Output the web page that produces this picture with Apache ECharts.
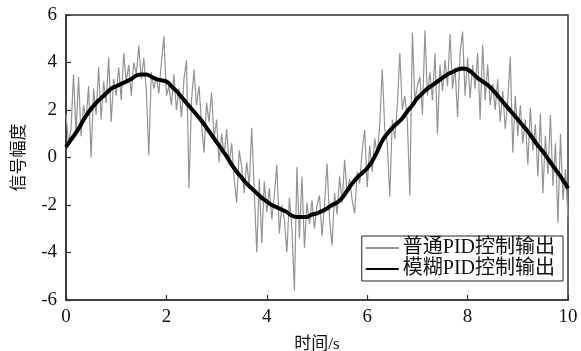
<!DOCTYPE html>
<html><head><meta charset="utf-8">
<script src="https://cdn.jsdelivr.net/npm/echarts@6/dist/echarts.min.js"></script>
<style>html,body{margin:0;padding:0;background:#fff}#c{width:581px;height:351px}</style>
</head><body><div id="c"></div>
<script>
// Sample steps (s)
const fuzzyStep = 0.1;
const normalStep = 0.05;
// Fuzzy PID output, t = 0 .. 10 step 0.1
const fuzzyOut = [0.45,0.75,1.05,1.4,1.75,2.05,2.3,2.5,2.7,2.9,
 3.0,3.1,3.2,3.3,3.45,3.5,3.5,3.4,3.3,3.25,
 3.2,3.0,2.8,2.55,2.3,2.05,1.8,1.55,1.25,0.95,
 0.65,0.35,0.05,-0.3,-0.6,-0.85,-1.1,-1.3,-1.5,-1.7,
 -1.85,-2.0,-2.1,-2.2,-2.3,-2.45,-2.5,-2.5,-2.5,-2.4,
 -2.35,-2.25,-2.15,-2.0,-1.9,-1.7,-1.4,-1.1,-0.85,-0.65,
 -0.45,-0.15,0.25,0.7,1.0,1.25,1.45,1.65,1.95,2.2,
 2.5,2.7,2.9,3.05,3.2,3.35,3.5,3.6,3.7,3.75,
 3.7,3.55,3.35,3.2,3.05,2.85,2.6,2.35,2.1,1.85,
 1.6,1.35,1.1,0.8,0.5,0.25,-0.05,-0.35,-0.65,-0.95,-1.3];
// Normal PID output, t = 0 .. 10 step 0.05
const normalOut = [1.8,0.6,1.2,3.5,1.0,3.4,0.9,2.2,1.6,3.0,0.0,2.9,1.8,3.8,1.6,3.2,2.3,4.2,1.5,3.3,2.6,
 3.8,2.4,4.4,3.2,3.9,2.6,4.0,3.5,4.7,3.3,4.2,2.8,0.1,3.6,2.9,3.4,2.7,4.0,5.1,2.6,
 3.0,2.2,3.5,2.0,2.9,1.7,3.3,4.1,-1.3,2.4,3.7,2.2,3.0,1.4,0.2,2.3,1.5,2.75,0.8,1.6,
 -0.2,1.0,0.1,1.2,-0.3,0.6,-0.9,-1.9,0.3,-0.4,-1.5,-0.2,-1.2,1.25,-1.4,-4.0,-0.9,-3.6,-1.0,-2.3,
 -1.3,-2.6,-1.6,-0.3,-3.2,-2.0,-2.6,-4.0,-1.7,-3.0,-5.6,-0.4,-3.4,-0.8,-3.8,-1.9,-2.8,-1.8,-3.0,-2.0,
 -1.6,-3.3,-2.0,-0.25,-2.6,-3.7,-1.5,-2.4,-0.8,-1.9,-0.1,-1.5,-0.9,-1.8,-2.35,-0.6,-1.1,0.3,1.15,-1.25,
 0.5,-0.6,0.8,0.1,1.4,3.7,1.2,0.6,-1.65,1.6,0.8,2.2,4.4,2.0,2.6,1.5,-1.6,5.25,2.4,3.0,
 3.4,1.8,5.35,2.6,3.6,2.4,4.4,1.0,3.9,2.8,4.1,3.0,5.2,2.9,3.8,1.7,4.4,5.3,2.6,4.2,
 2.5,3.9,2.9,4.4,1.6,4.75,2.4,3.9,2.2,3.1,2.0,3.3,1.5,2.8,1.2,2.4,4.25,0.2,2.6,0.9,
 2.2,0.6,1.6,-0.3,2.1,0.3,1.4,-0.8,1.85,-1.5,0.9,-0.7,1.8,-1.2,0.6,-2.75,1.0,-1.8,-0.5,-2.5];
const xTicks = [0,2,4,6,8,10];
const yTicks = [-6,-4,-2,0,2,4,6];
const seriesNames = ['普通PID控制输出','模糊PID控制输出'];
const xName = '时间/s';
const yName = '信号幅度';

const serif = '"Liberation Serif","DejaVu Serif","Noto Sans CJK SC",serif';
const toPairs = (arr, step) => arr.map((v,i)=>[+(i*step).toFixed(3), v]);

const chart = echarts.init(document.getElementById('c'), null, {renderer:'canvas'});
chart.setOption({
  animation:false,
  backgroundColor:'#fff',
  grid:{left:66,right:13,top:15,bottom:51,containLabel:false,outerBoundsMode:'none',
    show:true,borderColor:'#333',borderWidth:1.5,backgroundColor:'transparent'},
  xAxis:{type:'value',min:xTicks[0],max:xTicks[xTicks.length-1],interval:2,
    name:xName,nameLocation:'middle',nameGap:36,
    nameTextStyle:{fontFamily:serif,fontSize:17,color:'#111'},
    axisLine:{show:true,onZero:false,lineStyle:{color:'#333',width:1.5}},
    axisTick:{show:true,inside:true,length:5,lineStyle:{color:'#333',width:1.2}},
    axisLabel:{fontFamily:serif,fontSize:19,color:'#111',margin:8},
    splitLine:{show:false}},
  yAxis:{type:'value',min:yTicks[0],max:yTicks[yTicks.length-1],interval:2,
    name:yName,nameLocation:'middle',nameGap:38,nameRotate:90,
    nameTextStyle:{fontFamily:serif,fontSize:17,color:'#111'},
    axisLine:{show:true,onZero:false,lineStyle:{color:'#333',width:1.5}},
    axisTick:{show:true,inside:true,length:5,lineStyle:{color:'#333',width:1.2}},
    axisLabel:{fontFamily:serif,fontSize:19,color:'#111',margin:9},
    splitLine:{show:false}},
  legend:{orient:'vertical',right:18,top:236,itemWidth:33,itemHeight:10,itemGap:1,
    padding:[2,8,2,3],borderColor:'#222',borderWidth:1,backgroundColor:'#fff',
    itemStyle:{opacity:0},
    textStyle:{fontFamily:serif,fontSize:20,color:'#111',padding:[0,0,0,-1]},
    data:seriesNames},
  series:[
    {name:seriesNames[0],type:'line',symbol:'none',smooth:false,
     lineStyle:{color:'#939393',width:1.2},itemStyle:{color:'#939393'},
     data:toPairs(normalOut,normalStep),z:2},
    {name:seriesNames[1],type:'line',symbol:'none',smooth:true,
     lineStyle:{color:'#000',width:4},itemStyle:{color:'#000'},
     data:toPairs(fuzzyOut,fuzzyStep),z:3}
  ]
});
</script></body></html>
